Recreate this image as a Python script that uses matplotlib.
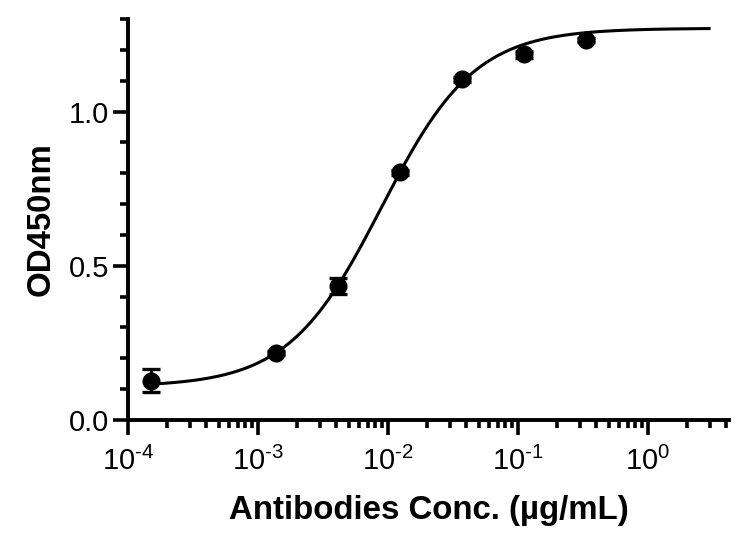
import numpy as np
import matplotlib
matplotlib.use('Agg')
import matplotlib.pyplot as plt
from matplotlib.ticker import FixedLocator, LogLocator, NullFormatter, MultipleLocator

# measured points (antibody conc. in ug/mL vs OD450)
conc = [1.5e-4, 1.37e-3, 4.12e-3, 1.23e-2, 3.7e-2, 0.111, 0.333]
od450 = [0.127, 0.218, 0.434, 0.803, 1.105, 1.185, 1.232]
od_err = [0.037, 0.006, 0.025, 0.008, 0.008, 0.010, 0.008]

# four-parameter logistic fit
fit_bottom = 0.108
fit_top = 1.27
fit_ec50 = 8.9e-3
fit_hill = 1.21
fit_range = [1.5e-4, 2.95]

xtick_exps = ['\u20104', '\u20103', '\u20102', '\u20101', '0']
xtick_pos = [1e-4, 1e-3, 1e-2, 1e-1, 1e0]

plt.rcParams['font.family'] = ['Liberation Sans', 'DejaVu Sans']
plt.rcParams['mathtext.fontset'] = 'custom'
plt.rcParams['mathtext.rm'] = 'Liberation Sans'

fig = plt.figure(figsize=(7.56, 5.37), dpi=100)
ax = fig.add_axes([128 / 756, 1 - 420 / 537, (729 - 128) / 756, (420 - 19) / 537])

xs = np.logspace(np.log10(fit_range[0]), np.log10(fit_range[1]), 400)
ys = fit_bottom + (fit_top - fit_bottom) / (1 + (fit_ec50 / xs) ** fit_hill)
ax.plot(xs, ys, color='black', lw=2.2, zorder=2)

ax.errorbar(conc, od450, yerr=od_err, fmt='o', color='black', ms=12,
            elinewidth=2.4, capsize=6.5, capthick=2.4, zorder=3)

ax.set_xscale('log')
ax.set_xlim(1e-4, 10 ** 0.623)
ax.set_ylim(0, 1.3)

ax.xaxis.set_major_locator(FixedLocator(xtick_pos))
ax.set_xticklabels(['$\\mathregular{10^{%s}}$' % e for e in xtick_exps])
ax.xaxis.set_minor_locator(LogLocator(base=10, subs=np.arange(2, 10), numticks=20))
ax.xaxis.set_minor_formatter(NullFormatter())

ax.set_yticks([0.0, 0.5, 1.0])
ax.set_yticklabels(['0.0', '0.5', '1.0'])
ax.yaxis.set_minor_locator(MultipleLocator(0.1))

for side in ['top', 'right']:
    ax.spines[side].set_visible(False)
for side in ['left', 'bottom']:
    ax.spines[side].set_linewidth(2.8)

ax.tick_params(which='major', direction='out', length=11, width=2.6, labelsize=21)
ax.tick_params(which='minor', direction='out', length=6, width=2.6)
ax.tick_params(axis='x', which='major', pad=8)
ax.tick_params(axis='y', which='major', pad=2.5)

ax.set_xlabel('Antibodies Conc. (µg/mL)', fontsize=23.8, fontweight='bold', labelpad=14)
ax.set_ylabel('OD450nm', fontsize=23.8, fontweight='bold', labelpad=9)

fig.savefig('out.png', dpi=100)
